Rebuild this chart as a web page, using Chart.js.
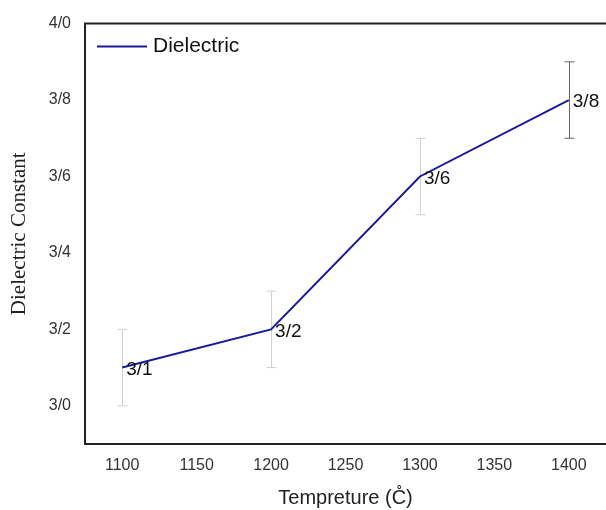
<!DOCTYPE html>
<html>
<head>
<meta charset="utf-8">
<script src="https://cdn.jsdelivr.net/npm/chart.js@4"></script>
<style>
  body { margin: 0; background: #fff; }
  #wrap { width: 606px; height: 510px; }
</style>
</head>
<body>
<div id="wrap"><canvas id="chart" width="606" height="510"></canvas></div>
<script>
// data
const temps = [1100, 1200, 1300, 1400];
const dielectric = [3.1, 3.2, 3.6, 3.8];
const errLow = [3.0, 3.1, 3.5, 3.7];
const errHigh = [3.2, 3.3, 3.7, 3.9];
const pointLabels = ["3/1", "3/2", "3/6", "3/8"];
const xTicks = [1100, 1150, 1200, 1250, 1300, 1350, 1400];
const yTicks = [3.0, 3.2, 3.4, 3.6, 3.8, 4.0];
const errColors = ["#d0d0d0", "#d0d0d0", "#d0d0d0", "#666666"];

const fmt = v => v.toFixed(1).replace(".", "/");

// frame, error bars, value labels and legend
const extras = {
    id: "extras",
    beforeDatasetsDraw(chart) {
        const ctx = chart.ctx;
        const x = chart.scales.x, y = chart.scales.y;
        ctx.save();
        ctx.lineWidth = 1;
        temps.forEach((t, i) => {
            const px = Math.round(x.getPixelForValue(t)) + 0.5;
            const top = y.getPixelForValue(errHigh[i]);
            const bot = y.getPixelForValue(errLow[i]);
            ctx.strokeStyle = errColors[i];
            ctx.beginPath();
            ctx.moveTo(px, top); ctx.lineTo(px, bot);
            ctx.moveTo(px - 5, top); ctx.lineTo(px + 5, top);
            ctx.moveTo(px - 5, bot); ctx.lineTo(px + 5, bot);
            ctx.stroke();
        });
        ctx.restore();
    },
    afterDatasetsDraw(chart) {
        const ctx = chart.ctx;
        const a = chart.chartArea;
        const x = chart.scales.x, y = chart.scales.y;
        ctx.save();
        // frame (no right side)
        ctx.strokeStyle = "#222";
        ctx.lineWidth = 2;
        ctx.beginPath();
        ctx.moveTo(a.right, a.top);
        ctx.lineTo(a.left, a.top);
        ctx.lineTo(a.left, a.bottom);
        ctx.lineTo(a.right, a.bottom);
        ctx.stroke();

        ctx.fillStyle = "#111";
        ctx.font = "19px 'Liberation Sans', Arial, sans-serif";
        ctx.textBaseline = "middle";
        ctx.textAlign = "left";
        temps.forEach((t, i) => {
            ctx.fillText(pointLabels[i], x.getPixelForValue(t) + 4, y.getPixelForValue(dielectric[i]) + 2);
        });

        // legend
        ctx.strokeStyle = "#1a1a99";
        ctx.lineWidth = 2;
        ctx.beginPath();
        ctx.moveTo(a.left + 12, a.top + 23);
        ctx.lineTo(a.left + 62, a.top + 23);
        ctx.stroke();
        ctx.fillStyle = "#111";
        ctx.font = "21px 'Liberation Sans', Arial, sans-serif";
        ctx.fillText("Dielectric", a.left + 68, a.top + 23);
        ctx.restore();
    }
};

new Chart(document.getElementById("chart").getContext("2d"), {
    type: "line",
    data: {
        datasets: [{
            label: "Dielectric",
            data: temps.map((t, i) => ({ x: t, y: dielectric[i] })),
            borderColor: "#1a1a99",
            borderWidth: 2,
            pointRadius: 0,
            tension: 0,
            fill: false
        }]
    },
    options: {
        responsive: false,
        animation: false,
        layout: { padding: { top: 22, right: 0, left: 0, bottom: 0 } },
        plugins: {
            legend: { display: false },
            tooltip: { enabled: false }
        },
        scales: {
            x: {
                type: "linear",
                min: 1075,
                max: 1425,
                grid: { display: false, drawTicks: false },
                border: { display: false },
                afterBuildTicks: axis => { axis.ticks = xTicks.map(v => ({ value: v })); },
                afterFit: axis => { axis.height = 66; },
                ticks: {
                    padding: 12,
                    color: "#333",
                    font: { family: "'Liberation Sans', Arial, sans-serif", size: 16 },
                    maxRotation: 0,
                    callback: v => String(v)
                },
                title: {
                    display: true,
                    text: "Tempreture (C\u030A)",
                    color: "#222",
                    font: { family: "'Liberation Sans', Arial, sans-serif", size: 20 },
                    padding: { top: 5, bottom: 0 }
                }
            },
            y: {
                min: 2.9,
                max: 4.0,
                grid: { display: false, drawTicks: false },
                border: { display: false },
                afterBuildTicks: axis => { axis.ticks = yTicks.map(v => ({ value: v })); },
                afterFit: axis => { axis.width = 85; },
                ticks: {
                    padding: 14,
                    color: "#333",
                    font: { family: "'Liberation Sans', Arial, sans-serif", size: 16 },
                    callback: v => fmt(v)
                },
                title: {
                    display: true,
                    text: "Dielectric Constant",
                    color: "#222",
                    font: { family: "'Liberation Serif', 'Times New Roman', serif", size: 21 },
                    padding: { top: 7, bottom: 0 }
                }
            }
        }
    },
    plugins: [extras]
});
</script>
</body>
</html>
